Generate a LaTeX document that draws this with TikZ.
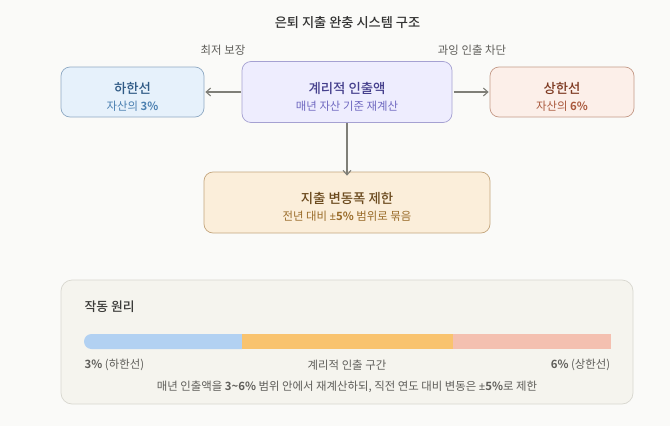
\documentclass[tikz,border=0pt]{standalone}
\usepackage{fontspec}
\setmainfont{Noto Sans CJK KR}[BoldFont={Noto Sans CJK KR Medium}]
\newfontfamily\numf{Noto Sans CJK KR Bold}
\newfontfamily\pmf{Noto Sans}
\newcommand{\nm}[1]{{\numf #1}}
\newcommand{\pmsign}{{\pmf\bfseries ±}}
\usetikzlibrary{arrows.meta}
\definecolor{bgc}{HTML}{FAFAF8}
\definecolor{lofill}{HTML}{E6F1FB}\definecolor{loline}{HTML}{8FAAC4}\definecolor{lohead}{HTML}{2F5A85}\definecolor{losub}{HTML}{4A7FB0}
\definecolor{midfill}{HTML}{EEEDFE}\definecolor{midline}{HTML}{A5A1D2}\definecolor{midhead}{HTML}{453F8C}\definecolor{midsub}{HTML}{6F68C0}
\definecolor{hifill}{HTML}{FCEFE9}\definecolor{hiline}{HTML}{C49A88}\definecolor{hihead}{HTML}{7E3A22}\definecolor{hisub}{HTML}{A9583C}
\definecolor{botfill}{HTML}{FBEEDA}\definecolor{botline}{HTML}{C4A67E}\definecolor{bothead}{HTML}{6B4A1E}\definecolor{botsub}{HTML}{9A6C2A}
\definecolor{panelfill}{HTML}{F5F4EE}\definecolor{panelline}{HTML}{D8D7CF}
\definecolor{barblue}{HTML}{B2D1F2}\definecolor{barorange}{HTML}{F9C36E}\definecolor{barred}{HTML}{F4C0B0}
\definecolor{inkc}{HTML}{3A3A38}\definecolor{labelc}{HTML}{5F5E5A}\definecolor{arrowc}{HTML}{7F7F78}
\tikzset{
  x=1pt,y=-1pt,
  box/.style={draw,line width=.7pt,rounded corners=9pt,inner sep=0pt},
  head/.style={font=\fontsize{13.4}{16}\selectfont\bfseries,anchor=center,inner sep=0pt},
  subt/.style={font=\fontsize{11.4}{14}\selectfont,anchor=center,inner sep=0pt},
  captxt/.style={font=\fontsize{11.4}{14}\selectfont,text=labelc,inner sep=0pt},
  conn/.style={draw=arrowc,line width=1.2pt,-{Straight Barb[length=4.5pt,width=8pt,line width=1.1pt]}}
}
\begin{document}
\begin{tikzpicture}
\useasboundingbox (0,0) rectangle (670,426);
\fill[bgc] (0,0) rectangle (670,426);
\node[font=\fontsize{13.2}{16}\selectfont\bfseries,text=black!80,inner sep=0pt] (title) at (347.5,22.5) {은퇴 지출 완충 시스템 구조};
\node[captxt] (capl) at (223,50) {최저 보장};
\node[captxt] (capr) at (472,50) {과잉 인출 차단};
\node[box,draw=loline,fill=lofill,minimum width=143pt,minimum height=50pt] (lo) at (132.5,92) {};
\node[box,draw=midline,fill=midfill,minimum width=210pt,minimum height=61pt] (mid) at (347,92) {};
\node[box,draw=hiline,fill=hifill,minimum width=144pt,minimum height=50pt] (hi) at (562,92) {};
\node[box,draw=botline,fill=botfill,minimum width=286pt,minimum height=61pt] (bot) at (347,202.5) {};
\node[head,text=lohead] (loh) at (132.5,88) {하한선};
\node[subt,text=losub] (los) at (132.5,106) {자산의 \nm{3\%}};
\node[head,text=midhead] (midh) at (347,88) {계리적 인출액};
\node[subt,text=midsub] (mids) at (347,106.5) {매년 자산 기준 재계산};
\node[head,text=hihead] (hih) at (562,88) {상한선};
\node[subt,text=hisub] (his) at (562,106) {자산의 \nm{6\%}};
\node[head,text=bothead] (both) at (347,198) {지출 변동폭 제한};
\node[subt,text=botsub] (bots) at (347,216.5) {전년 대비 \pmsign\nm{5\%} 범위로 묶음};
\draw[conn] ([xshift=-.5pt]mid.west) -- ([xshift=1pt]lo.east);
\draw[conn] ([xshift=1.5pt]mid.east) -- ([xshift=-1pt]hi.west);
\draw[conn] (mid.south) -- ([yshift=-4pt]bot.north);
\node[box,draw=panelline,fill=panelfill,minimum width=572pt,minimum height=124pt,rounded corners=11pt] (panel) at (347,342) {};
\node[font=\fontsize{12.8}{15}\selectfont\bfseries,text=inkc,anchor=west,inner sep=0pt] (ptitle) at (84.5,306.5) {작동 원리};
\fill[barblue] (242,334) -- (91.5,334) arc[start angle=90,end angle=270,radius=7.5pt] -- (242,349) -- cycle;
\fill[barorange] (242,334) rectangle (452.5,349);
\fill[barred] (452.5,334) rectangle (610.5,349);
\node[subt,text=labelc,anchor=west] (b1) at (84.5,365) {\nm{3\%} (하한선)};
\node[subt,text=labelc] (b2) at (347,365) {계리적 인출 구간};
\node[subt,text=labelc,anchor=east] (b3) at (610.5,365) {\nm{6\%} (상한선)};
\node[subt,text=labelc] (note) at (347,387) {매년 인출액을 \nm{3\textasciitilde6\%} 범위 안에서 재계산하되, 직전 연도 대비 변동은 \pmsign\nm{5\%}로 제한};
\end{tikzpicture}
\end{document}
